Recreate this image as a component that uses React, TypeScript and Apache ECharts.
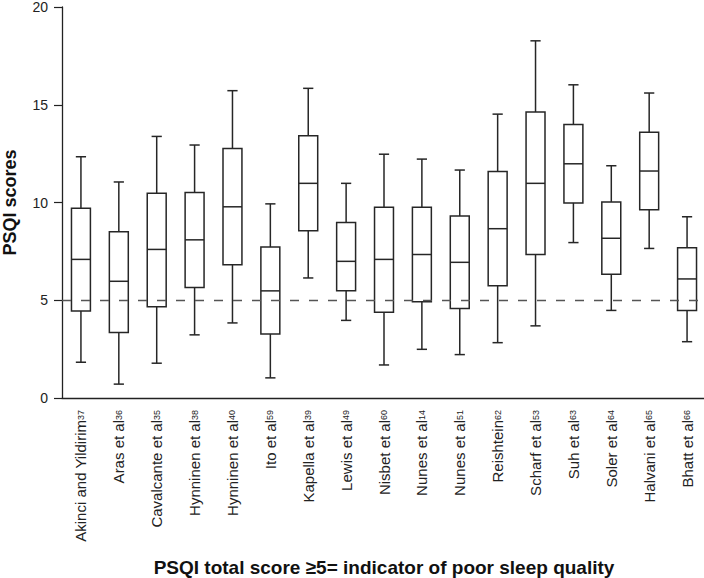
import React, { useEffect, useRef } from "react";
import * as echarts from "echarts";

const categories = [
  "Akinci and Yildirim", "Aras et al", "Cavalcante et al", "Hynninen et al", "Hynninen et al",
  "Ito et al", "Kapella et al", "Lewis et al", "Nisbet et al", "Nunes et al", "Nunes et al",
  "Reishtein", "Scharf et al", "Suh et al", "Soler et al", "Halvani et al", "Bhatt et al",
];
const refs = ["37", "36", "35", "38", "40", "59", "39", "49", "60", "14", "51", "62", "53", "63", "64", "65", "66"];
const mins = [1.83, 0.71, 1.78, 3.23, 3.84, 1.03, 6.14, 3.97, 1.69, 2.49, 2.22, 2.83, 3.69, 7.95, 4.48, 7.65, 2.88];
const q1s = [4.45, 3.35, 4.67, 5.65, 6.82, 3.27, 8.56, 5.48, 4.38, 4.92, 4.58, 5.74, 7.34, 9.98, 6.33, 9.63, 4.48];
const medians = [7.09, 5.97, 7.6, 8.09, 9.78, 5.48, 10.98, 6.99, 7.09, 7.34, 6.94, 8.66, 10.98, 11.98, 8.17, 11.61, 6.09];
const q3s = [9.71, 8.51, 10.47, 10.51, 12.76, 7.72, 13.42, 8.98, 9.76, 9.76, 9.31, 11.59, 14.63, 13.99, 10.03, 13.59, 7.68];
const maxs = [12.34, 11.05, 13.38, 12.94, 15.72, 9.93, 15.84, 10.98, 12.47, 12.22, 11.66, 14.52, 18.27, 16.02, 11.88, 15.6, 9.27];
const yTicks = { min: 0, max: 20, interval: 5 };
const threshold = 5;

const FONT = "Liberation Sans, Arial, Helvetica, sans-serif";

export default function App() {
  const ref = useRef<HTMLDivElement>(null);
  useEffect(() => {
    if (!ref.current) return;
    const chart = echarts.init(ref.current, undefined, { renderer: "svg" });
    const data = categories.map((_, i) => [i, mins[i], q1s[i], medians[i], q3s[i], maxs[i]]);
    const stroke = "#262626";
    const lw = 1.5;
    chart.setOption({
      animation: false,
      backgroundColor: "#ffffff",
      grid: { left: 62, top: 7, width: 644, height: 391, containLabel: false, outerBoundsMode: "none" },
      xAxis: {
        type: "category",
        data: categories,
        boundaryGap: true,
        axisLine: { lineStyle: { color: "#222", width: 1.3 } },
        axisTick: { alignWithLabel: true, length: 7, lineStyle: { color: "#222", width: 1.2 } },
        axisLabel: {
          interval: 0,
          rotate: 90,
          margin: 12,
          color: "#222",
          fontFamily: FONT,
          formatter: (v: string, i: number) => `{a|${v}}{s|${refs[i]}}`,
          rich: {
            a: { fontSize: 15, fontFamily: FONT, color: "#222", verticalAlign: "middle" },
            s: { fontSize: 9, fontFamily: FONT, color: "#222", verticalAlign: "middle" },
          },
        },
        name: "PSQI total score \u22655= indicator of poor sleep quality",
        nameLocation: "middle",
        nameGap: 160,
        nameTextStyle: { fontSize: 19, fontWeight: "bold", color: "#111", fontFamily: FONT },
        splitLine: { show: false },
      },
      yAxis: {
        type: "value",
        min: yTicks.min,
        max: yTicks.max,
        interval: yTicks.interval,
        axisLine: { show: true, lineStyle: { color: "#222", width: 1.3 } },
        axisTick: { show: true, length: 8, lineStyle: { color: "#222", width: 1.2 } },
        axisLabel: { margin: 14, fontSize: 14, lineHeight: 12, color: "#222", fontFamily: FONT },
        splitLine: { show: false },
        name: "PSQI scores",
        nameLocation: "middle",
        nameGap: 43,
        nameTextStyle: { fontSize: 18, fontWeight: "bold", color: "#111", fontFamily: FONT },
      },
      series: [
        {
          type: "custom",
          data,
          encode: { x: 0, y: [1, 2, 3, 4, 5] },
          renderItem: (params: any, api: any) => {
            const i = api.value(0);
            const band = api.size([1, 0])[0];
            const bw = band * 0.5;
            const cw = band * 0.27;
            const pMin = api.coord([i, api.value(1)]);
            const pQ1 = api.coord([i, api.value(2)]);
            const pMed = api.coord([i, api.value(3)]);
            const pQ3 = api.coord([i, api.value(4)]);
            const pMax = api.coord([i, api.value(5)]);
            const x = pMin[0];
            const st = { stroke, lineWidth: lw, fill: null };
            return {
              type: "group",
              children: [
                { type: "line", shape: { x1: x, y1: pMax[1], x2: x, y2: pQ3[1] }, style: st },
                { type: "line", shape: { x1: x, y1: pQ1[1], x2: x, y2: pMin[1] }, style: st },
                { type: "line", shape: { x1: x - cw / 2, y1: pMax[1], x2: x + cw / 2, y2: pMax[1] }, style: st },
                { type: "line", shape: { x1: x - cw / 2, y1: pMin[1], x2: x + cw / 2, y2: pMin[1] }, style: st },
                {
                  type: "rect",
                  shape: { x: x - bw / 2, y: pQ3[1], width: bw, height: pQ1[1] - pQ3[1] },
                  style: { stroke, lineWidth: lw, fill: "rgba(0,0,0,0)" },
                },
                { type: "line", shape: { x1: x - bw / 2, y1: pMed[1], x2: x + bw / 2, y2: pMed[1] }, style: st },
              ],
            };
          },
          markLine: {
            silent: true,
            symbol: "none",
            label: { show: false },
            lineStyle: { color: "#555", type: [9, 10], width: 1.4 },
            data: [{ yAxis: threshold }],
          },
        },
      ],
    });
    return () => chart.dispose();
  }, []);
  return (
    <div
      ref={ref}
      style={{ position: "fixed", left: 0, top: 0, width: 704, height: 578, background: "#fff" }}
    />
  );
}
